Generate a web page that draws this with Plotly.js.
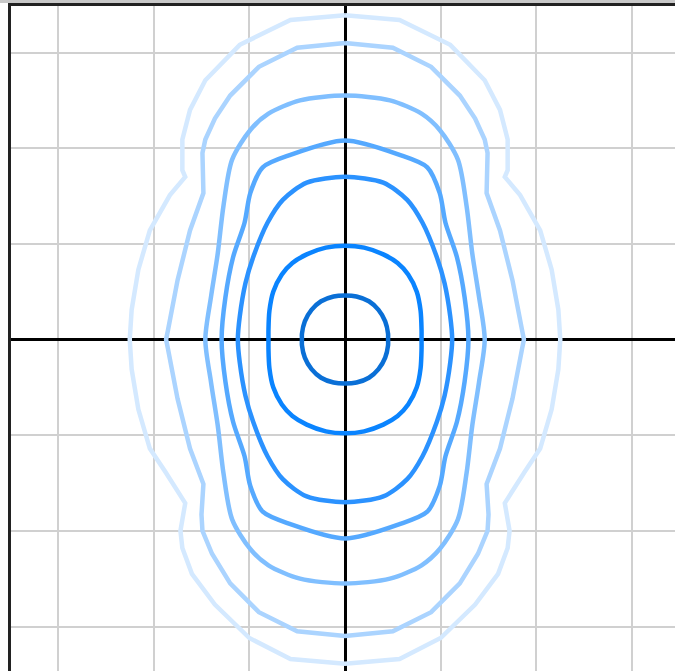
<!DOCTYPE html>
<html>
<head>
<meta charset="utf-8">
<script src="https://cdn.plot.ly/plotly-3.0.1.min.js"></script>
<style>
html,body{margin:0;padding:0;background:#fff;overflow:hidden;}
#strip{position:absolute;left:0;top:0;width:675px;height:3px;background:#c8c8c8;z-index:5;}
#chart{position:absolute;left:0;top:0;width:675px;height:671px;}
</style>
</head>
<body>
<div id="strip"></div>
<div id="chart"></div>
<script>
// Contour levels, innermost to outermost (closed curves, data units)
const c1x = [0, 0.12, 0.25, 0.35, 0.42, 0.45, 0.45, 0.45, 0.42, 0.35, 0.25, 0.12, 0, -0.12, -0.25, -0.35, -0.42, -0.45, -0.45, -0.45, -0.42, -0.35, -0.25, -0.12, 0];
const c1y = [0.46, 0.45, 0.40, 0.31, 0.19, 0.06, 0, -0.06, -0.19, -0.31, -0.40, -0.45, -0.46, -0.45, -0.40, -0.31, -0.19, -0.06, 0, 0.06, 0.19, 0.31, 0.40, 0.45, 0.46];

const c2x = [0, 0.20, 0.40, 0.55, 0.66, 0.75, 0.79, 0.80, 0.80, 0.80, 0.79, 0.75, 0.66, 0.55, 0.40, 0.20, 0, -0.20, -0.40, -0.55, -0.66, -0.75, -0.79, -0.80, -0.80, -0.80, -0.79, -0.75, -0.66, -0.55, -0.40, -0.20, 0];
const c2y = [0.98, 0.96, 0.89, 0.80, 0.68, 0.50, 0.30, 0.10, 0, -0.10, -0.30, -0.50, -0.68, -0.80, -0.89, -0.96, -0.98, -0.96, -0.89, -0.80, -0.68, -0.50, -0.30, -0.10, 0, 0.10, 0.30, 0.50, 0.68, 0.80, 0.89, 0.96, 0.98];

const c3x = [0, 0.40, 0.65, 0.81, 0.96, 1.04, 1.10, 1.12, 1.10, 1.04, 0.96, 0.81, 0.65, 0.40, 0, -0.40, -0.65, -0.81, -0.96, -1.04, -1.10, -1.12, -1.10, -1.04, -0.96, -0.81, -0.65, -0.40, 0];
const c3y = [1.70, 1.64, 1.46, 1.22, 0.86, 0.59, 0.24, 0, -0.24, -0.59, -0.86, -1.22, -1.46, -1.64, -1.70, -1.64, -1.46, -1.22, -0.86, -0.59, -0.24, 0, 0.24, 0.59, 0.86, 1.22, 1.46, 1.64, 1.70];

const c4x = [0, 0.57, 0.86, 0.99, 1.05, 1.17, 1.25, 1.29, 1.25, 1.17, 1.05, 0.99, 0.86, 0.57, 0, -0.57, -0.86, -0.99, -1.05, -1.17, -1.25, -1.29, -1.25, -1.17, -1.05, -0.99, -0.86, -0.57, 0];
const c4y = [2.08, 1.93, 1.80, 1.53, 1.22, 0.86, 0.44, 0, -0.44, -0.86, -1.22, -1.53, -1.80, -1.93, -2.08, -1.93, -1.80, -1.53, -1.22, -0.86, -0.44, 0, 0.44, 0.86, 1.22, 1.53, 1.80, 1.93, 2.08];

const c5x = [0, 0.47, 0.80, 0.99, 1.18, 1.27, 1.33, 1.40, 1.46, 1.40, 1.33, 1.27, 1.18, 0.99, 0.80, 0.47, 0, -0.47, -0.80, -0.99, -1.18, -1.27, -1.33, -1.40, -1.46, -1.40, -1.33, -1.27, -1.18, -0.99, -0.80, -0.47, 0];
const c5y = [2.55, 2.50, 2.36, 2.19, 1.88, 1.40, 0.90, 0.45, 0, -0.45, -0.90, -1.40, -1.88, -2.19, -2.36, -2.50, -2.55, -2.50, -2.36, -2.19, -1.88, -1.40, -0.90, -0.45, 0, 0.45, 0.90, 1.40, 1.88, 2.19, 2.36, 2.50, 2.55];

const c6x = [0, 0.50, 0.90, 1.20, 1.36, 1.46, 1.49, 1.48, 1.62, 1.75, 1.85, 1.87, 1.85, 1.75, 1.62, 1.48, 1.50, 1.49, 1.39, 1.20, 0.90, 0.50, 0, -0.50, -0.90, -1.20, -1.39, -1.49, -1.50, -1.48, -1.62, -1.75, -1.85, -1.87, -1.85, -1.75, -1.62, -1.48, -1.49, -1.46, -1.36, -1.20, -0.90, -0.50, 0];
const c6y = [3.10, 3.05, 2.85, 2.55, 2.31, 2.09, 1.95, 1.53, 1.14, 0.62, 0.10, 0, -0.10, -0.62, -1.14, -1.51, -1.83, -2.00, -2.24, -2.55, -2.85, -3.05, -3.10, -3.05, -2.85, -2.55, -2.24, -2.00, -1.83, -1.51, -1.14, -0.62, -0.10, 0, 0.10, 0.62, 1.14, 1.53, 1.95, 2.09, 2.31, 2.55, 2.85, 3.05, 3.10];

const c7x = [0, 0.57, 1.10, 1.46, 1.62, 1.70, 1.70, 1.67, 1.83, 2.04, 2.16, 2.23, 2.25, 2.23, 2.16, 2.04, 1.88, 1.67, 1.72, 1.70, 1.60, 1.36, 1.00, 0.57, 0, -0.57, -1.00, -1.36, -1.60, -1.70, -1.72, -1.67, -1.88, -2.04, -2.16, -2.23, -2.25, -2.23, -2.16, -2.04, -1.83, -1.67, -1.70, -1.70, -1.62, -1.46, -1.10, -0.57, 0];
const c7y = [3.39, 3.34, 3.08, 2.71, 2.40, 2.09, 1.77, 1.70, 1.51, 1.14, 0.73, 0.31, 0, -0.31, -0.73, -1.14, -1.38, -1.71, -2.00, -2.18, -2.45, -2.77, -3.12, -3.34, -3.39, -3.34, -3.12, -2.77, -2.45, -2.18, -2.00, -1.71, -1.38, -1.14, -0.73, -0.31, 0, 0.31, 0.73, 1.14, 1.51, 1.70, 1.77, 2.09, 2.40, 2.71, 3.08, 3.34, 3.39];

const levelColors = ['#0a6fd6', '#0a84ff', '#2b92ff', '#55a9ff', '#80bfff', '#abd4ff', '#d4e9ff'];
const levelShapes = ['spline', 'spline', 'spline', 'spline', 'spline', 'linear', 'linear'];

const curves = [[c1x, c1y], [c2x, c2y], [c3x, c3y], [c4x, c4y], [c5x, c5y], [c6x, c6y], [c7x, c7y]];

const traces = curves.map((c, i) => ({
  type: 'scatter', mode: 'lines', x: c[0], y: c[1],
  line: {color: levelColors[i], width: 4.5, shape: levelShapes[i], smoothing: 0.8},
  hoverinfo: 'skip'
})).reverse();

const layout = {
  width: 675, height: 671,
  margin: {l: 11, r: 0, t: 6, b: 0, pad: 0},
  paper_bgcolor: '#ffffff', plot_bgcolor: '#ffffff',
  showlegend: false,
  xaxis: {
    range: [-3.491, 3.449], tick0: 0, dtick: 1, showticklabels: false, ticks: '',
    showgrid: true, gridcolor: '#d0d0d0', gridwidth: 2,
    zeroline: true, zerolinecolor: '#000000', zerolinewidth: 3,
    showline: true, linecolor: '#222222', linewidth: 3, side: 'top', mirror: false,
    fixedrange: true
  },
  yaxis: {
    range: [-3.465, 3.486], tick0: 0, dtick: 1, showticklabels: false, ticks: '',
    showgrid: true, gridcolor: '#d0d0d0', gridwidth: 2,
    zeroline: true, zerolinecolor: '#000000', zerolinewidth: 3,
    showline: true, linecolor: '#222222', linewidth: 3, side: 'left', mirror: false,
    fixedrange: true
  }
};

Plotly.newPlot('chart', traces, layout, {displayModeBar: false, staticPlot: true});
</script>
</body>
</html>
